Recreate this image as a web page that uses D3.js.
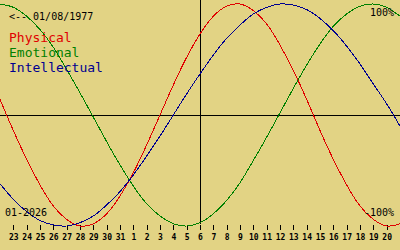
<!DOCTYPE html>
<html>
<head>
<meta charset="utf-8">
<script src="https://cdn.jsdelivr.net/npm/d3@7"></script>
<style>
  body { margin: 0; background: #e2d384; }
  svg { display: block; }
  text { font-family: "DejaVu Sans Mono", monospace; }
</style>
</head>
<body>
<div id="chart"></div>
<script>
// days relative to the centre day (0 = 6 Jan 2026)
const days = d3.range(-15, 16);
const dayLabels = ["23","24","25","26","27","28","29","30","31","1","2","3","4","5",
  "6","7","8","9","10","11","12","13","14","15","16","17","18","19","20"];

// percent values, one per day from -15 to 15
const physical = [14,-14,-40,-63,-82,-94,-100,-98,-89,-73,-52,-27,0,27,52,
  73,89,98,100,94,82,63,40,14,-14,-40,-63,-82,-94,-100,-98];
const emotional = [100,97,89,77,61,41,20,-2,-24,-45,-64,-80,-91,-98,-100,
  -97,-89,-77,-61,-41,-20,2,24,45,64,80,91,98,100,97,89];
const intellectual = [-62,-76,-87,-95,-99,-100,-97,-91,-81,-69,-54,-37,-19,0,19,
  37,54,69,81,91,97,100,99,95,87,76,62,46,28,10,-10];

const width = 400, height = 250;

const svg = d3.select("#chart")
  .append("svg")
    .attr("width", width)
    .attr("height", height);

svg.append("rect")
  .attr("width", width)
  .attr("height", height)
  .attr("fill", "#e2d384");

const x = d3.scaleLinear()
  .domain([-15, 15])
  .range([0, width]);

const y = d3.scaleLinear()
  .domain([-100, 100])
  .range([226, 4]);

// cross lines
svg.append("line")
  .attr("x1", 0).attr("x2", width)
  .attr("y1", y(0)).attr("y2", y(0))
  .attr("stroke", "#000")
  .attr("shape-rendering", "crispEdges");
svg.append("line")
  .attr("x1", x(0)).attr("x2", x(0))
  .attr("y1", 0).attr("y2", 224)
  .attr("stroke", "#000")
  .attr("shape-rendering", "crispEdges");

// day axis
const xAxis = svg.append("g")
  .attr("transform", "translate(0,225)")
  .call(d3.axisBottom(x)
    .tickValues(d3.range(-14, 15))
    .tickFormat((d, i) => dayLabels[i])
    .tickSize(5)
    .tickPadding(4));
xAxis.select(".domain").remove();
xAxis.selectAll("line")
  .attr("stroke", "#000")
  .attr("shape-rendering", "crispEdges");
xAxis.selectAll("text")
  .attr("fill", "#000")
  .style("font-family", "'DejaVu Sans Mono', monospace")
  .style("font-size", "8px")
  .style("font-weight", "bold");

// curves
const line = d3.line()
  .x((d, i) => x(days[i]))
  .y(d => y(d))
  .curve(d3.curveNatural);

const series = [
  {name: "Physical", values: physical, color: "#e00000"},
  {name: "Emotional", values: emotional, color: "#008000"},
  {name: "Intellectual", values: intellectual, color: "#000090"}
];

svg.selectAll(".curve")
  .data(series)
  .join("path")
    .attr("class", "curve")
    .attr("d", d => line(d.values))
    .attr("fill", "none")
    .attr("stroke", d => d.color)
    .attr("stroke-width", 1)
    .attr("shape-rendering", "crispEdges");

// texts
svg.append("text")
  .attr("x", 9).attr("y", 20)
  .style("font-size", "10px")
  .text("<-- 01/08/1977");

svg.selectAll(".legend")
  .data(series)
  .join("text")
    .attr("class", "legend")
    .attr("x", 9)
    .attr("y", (d, i) => 42 + i * 15)
    .attr("fill", d => d.color)
    .style("font-size", "13px")
    .text(d => d.name);

svg.append("text")
  .attr("x", 394).attr("y", 16)
  .attr("text-anchor", "end")
  .style("font-size", "10px")
  .text("100%");
svg.append("text")
  .attr("x", 394).attr("y", 216)
  .attr("text-anchor", "end")
  .style("font-size", "10px")
  .text("-100%");
svg.append("text")
  .attr("x", 5).attr("y", 216)
  .style("font-size", "10px")
  .text("01-2026");
</script>
</body>
</html>
